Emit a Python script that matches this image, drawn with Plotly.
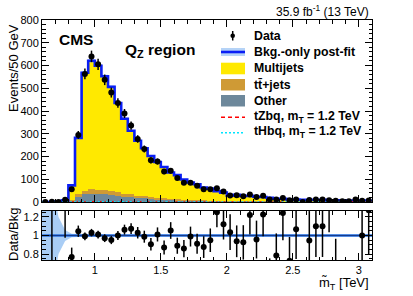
import numpy as np
import plotly.graph_objects as go

# ---------------- data ----------------
bin_low, bin_width, n_bins = 0.6, 0.05, 50
x_ticks = [1, 1.5, 2, 2.5, 3]
x_ticklabels = ["1", "1.5", "2", "2.5", "3"]

data = [0, 1, 0, 10, 56, 295, 563, 640, 605, 537, 481, 435, 389, 336, 277, 233, 183, 178,
        134, 137, 105, 85, 85, 71, 56, 56, 60, 46, 29, 30, 25, 33, 22, 27, 11, 11, 18, 8,
        11, 0, 9, 11, 11, 8, 5, 3, 3, 11, 6, 7]

multijets = [0.1, 0.3, 1.5, 6.0, 66, 248, 518, 566, 545, 502, 459, 393, 329, 280, 241, 211, 180,
             157, 137.5, 116, 105.5, 88, 76.5, 70, 57, 52.8, 42.5, 36.2, 24, 28.1, 23.8, 23.9,
             20.5, 19.5, 16.6, 12, 12.5, 9.3, 8.6, 8.4, 8.1, 8.7, 8.7, 3.9, 6.5, 6, 5.6, 5.2, 5.2, 4.7]
ttbar = [0, 0, 0, 0.5, 3, 12, 17, 19, 19, 18, 17, 15, 13, 12, 10, 9, 8, 7, 6, 5, 4.5, 4, 3.5, 3,
         2.5, 2.2, 2, 1.8, 1.5, 1.4, 1.2, 1.1, 1, 1, 0.9, 0.8, 0.8, 0.7, 0.7, 0.6, 0.6, 0.5, 0.5,
         0.5, 0.4, 0.4, 0.4, 0.3, 0.3, 0.3]
other = [0, 0, 0, 0.5, 4, 22, 33, 36, 35, 33, 30, 27, 24, 21, 18, 16, 14, 12, 10.5, 9, 8, 7, 6, 5,
         4.5, 4, 3.5, 3, 2.5, 2.5, 2, 2, 1.5, 1.5, 1.5, 1.2, 1.2, 1, 1, 1, 0.8, 0.8, 0.8, 0.6, 0.6,
         0.6, 0.5, 0.5, 0.5, 0.5]
tzbq = [0, 0, 0, 0, 0.1, 0.3, 0.5, 0.8, 1.0, 1.2, 1.4, 1.5, 1.3, 1.0, 0.7, 0.5, 0.3, 0.2, 0.1,
        0.1, 0, 0, 0, 0, 0, 0, 0, 0, 0, 0, 0, 0, 0, 0, 0, 0, 0, 0, 0, 0, 0, 0, 0, 0, 0, 0, 0, 0, 0, 0]
thbq = [0, 0, 0, 0, 0.1, 0.2, 0.4, 0.6, 0.8, 1.0, 1.1, 1.2, 1.0, 0.8, 0.6, 0.4, 0.2, 0.1, 0.1,
        0, 0, 0, 0, 0, 0, 0, 0, 0, 0, 0, 0, 0, 0, 0, 0, 0, 0, 0, 0, 0, 0, 0, 0, 0, 0, 0, 0, 0, 0, 0]
# relative post-fit background uncertainty per bin
bkg_unc = [1.0, 0.6, 0.2, 0.06, 0.02, 0.015, 0.012, 0.012, 0.012, 0.012, 0.012, 0.012, 0.012,
           0.012, 0.012, 0.012, 0.012, 0.012, 0.012, 0.012, 0.012, 0.012, 0.012, 0.012, 0.012,
           0.012, 0.012, 0.012, 0.012, 0.012, 0.012, 0.012, 0.012, 0.012, 0.012, 0.012, 0.012,
           0.012, 0.012, 0.012, 0.012, 0.012, 0.012, 0.012, 0.012, 0.012, 0.012, 0.012, 0.012, 0.012]

# ---------------- derived ----------------
edges = bin_low + bin_width * np.arange(n_bins + 1)
centers = edges[:-1] + bin_width / 2
data_a = np.array(data, float)
total = np.array(multijets) + np.array(ttbar) + np.array(other)
data_err = np.sqrt(data_a)
ratio = np.where(total > 0, data_a / total, np.nan)
ratio_err = np.where(total > 0, data_err / total, np.nan)
unc = np.array(bkg_unc)

def step(v):
    v = np.asarray(v, float)
    return np.append(v, v[-1])

FONT = "Liberation Sans, Arial, Helvetica, sans-serif"
C_MJ, C_TT, C_OT = "#ffe900", "#cf9a35", "#6d889b"
C_BLUE = "#0a1ef5"
C_BAND = "#a9cdf5"

fig = go.Figure()

# stacked backgrounds
for name, vals, col in [("Other", other, C_OT), ("tt+jets", ttbar, C_TT), ("Multijets", multijets, C_MJ)]:
    fig.add_trace(go.Bar(x=centers, y=vals, width=bin_width, marker=dict(color=col, line=dict(width=0)),
                         xaxis="x", yaxis="y", showlegend=False, hoverinfo="skip"))

# bkg uncertainty band (main)
fig.add_trace(go.Scatter(x=edges, y=step(total * (1 + unc)), mode="lines", line=dict(width=0, shape="hv"),
                         xaxis="x", yaxis="y", showlegend=False, hoverinfo="skip"))
fig.add_trace(go.Scatter(x=edges, y=step(total * (1 - unc)), mode="lines", line=dict(width=0, shape="hv"),
                         fill="tonexty", fillcolor="rgba(120,175,240,0.55)",
                         xaxis="x", yaxis="y", showlegend=False, hoverinfo="skip"))
# total bkg line
fig.add_trace(go.Scatter(x=edges, y=step(total), mode="lines", line=dict(color=C_BLUE, width=2.6, shape="hv"),
                         xaxis="x", yaxis="y", showlegend=False, hoverinfo="skip"))
# signals
fig.add_trace(go.Scatter(x=edges, y=step(tzbq), mode="lines", line=dict(color="#ff0000", width=1.5, dash="4px,3px", shape="hv"),
                         xaxis="x", yaxis="y", showlegend=False, hoverinfo="skip"))
fig.add_trace(go.Scatter(x=edges, y=step(thbq), mode="lines", line=dict(color="#00e5ff", width=1.5, dash="2px,2px", shape="hv"),
                         xaxis="x", yaxis="y", showlegend=False, hoverinfo="skip"))
# data
fig.add_trace(go.Scatter(x=centers, y=data_a, mode="markers", marker=dict(color="black", size=6),
                         error_y=dict(type="data", array=data_err, visible=True, color="black", thickness=1.5, width=0),
                         xaxis="x", yaxis="y", showlegend=False, hoverinfo="skip"))

# ratio band
fig.add_trace(go.Scatter(x=np.concatenate([[edges[0]], centers, [edges[-1]]]),
                         y=np.concatenate([[1 + unc[0]], 1 + unc, [1 + unc[-1]]]),
                         mode="lines", line=dict(width=0), xaxis="x2", yaxis="y2", showlegend=False, hoverinfo="skip"))
fig.add_trace(go.Scatter(x=np.concatenate([[edges[0]], centers, [edges[-1]]]),
                         y=np.concatenate([[1 - unc[0]], 1 - unc, [1 - unc[-1]]]),
                         mode="lines", line=dict(width=0), fill="tonexty", fillcolor=C_BAND,
                         xaxis="x2", yaxis="y2", showlegend=False, hoverinfo="skip"))
fig.add_trace(go.Scatter(x=[edges[0], edges[-1]], y=[1, 1], mode="lines", line=dict(color="#2a6fdc", width=2.5),
                         xaxis="x2", yaxis="y2", showlegend=False, hoverinfo="skip"))
fig.add_trace(go.Scatter(x=[edges[0], edges[-1]], y=[1, 1], mode="lines", line=dict(color="#10307a", width=0.8),
                         xaxis="x2", yaxis="y2", showlegend=False, hoverinfo="skip"))
fig.add_trace(go.Scatter(x=centers, y=ratio, mode="markers", marker=dict(color="black", size=6),
                         error_y=dict(type="data", array=ratio_err, visible=True, color="black", thickness=1.5, width=0),
                         xaxis="x2", yaxis="y2", showlegend=False, hoverinfo="skip"))

W, H = 413, 296
L, R, T, B = 42, 372, 20, 260

def px(xp):
    return (xp - L) / (R - L)

def py(yp):
    return (B - yp) / (B - T)

axis_common = dict(showline=True, linecolor="black", linewidth=1, mirror="allticks", ticks="inside",
                   tickcolor="black", showgrid=False, zeroline=False,
                   tickfont=dict(family=FONT, size=11, color="black"))

fig.update_layout(
    width=W, height=H, margin=dict(l=L, r=W - R, t=T, b=H - B),
    paper_bgcolor="white", plot_bgcolor="white", barmode="stack", bargap=0,
    showlegend=False,
    xaxis=dict(domain=[0, 1], anchor="y", range=[0.6, 3.1], tickvals=x_ticks, showticklabels=False,
               ticklen=7, minor=dict(dtick=0.1, tick0=0, ticklen=3.5, ticks="inside", tickcolor="black"),
               **axis_common),
    yaxis=dict(domain=[py(202), 1], anchor="x", range=[0, 800], dtick=100, ticklen=7,
               minor=dict(dtick=20, ticklen=3.5, ticks="inside", tickcolor="black"), **axis_common),
    xaxis2=dict(domain=[0, 1], anchor="y2", range=[0.6, 3.1], tickvals=x_ticks, ticktext=x_ticklabels,
                ticklen=7, minor=dict(dtick=0.1, tick0=0, ticklen=3.5, ticks="inside", tickcolor="black"),
                **axis_common),
    yaxis2=dict(domain=[0, py(211)], anchor="x2", range=[0.736, 1.264], tickvals=[0.8, 1, 1.2],
                ticktext=["0.8", "1", "1.2"], ticklen=7,
                minor=dict(dtick=0.05, ticklen=3.5, ticks="inside", tickcolor="black"), **axis_common),
)

ann = []
def text(x, y, s, size, bold=False, xanchor="left", yanchor="middle", angle=0):
    ann.append(dict(x=px(x), y=py(y), xref="paper", yref="paper", text=f"<b>{s}</b>" if bold else s,
                    showarrow=False, xanchor=xanchor, yanchor=yanchor, textangle=angle,
                    font=dict(family=FONT, size=size, color="black")))

text(371, 11, "35.9 fb<sup>-1</sup> (13 TeV)", 12, xanchor="right")
text(57, 39, "CMS", 15.5, bold=True)
text(123, 50, "Q<sub>Z</sub> region", 15.5, bold=True)
text(13, 22, "Events/50 GeV", 13, xanchor="center", yanchor="top", angle=-90)
text(13, 235, "Data/Bkg", 13, xanchor="center", angle=-90)
text(371, 283, "m\u0303<sub>T</sub> [TeV]", 13, xanchor="right")

leg_x = 252
leg = [(35.7, "Data"), (52, "Bkg.-only post-fit"), (68.5, "Multijets"), (84.5, "tt\u0304+jets"),
       (100.5, "Other"), (116.5, "tZbq, m<sub>T</sub> = 1.2 TeV"), (132, "tHbq, m<sub>T</sub> = 1.2 TeV")]
for yy, s in leg:
    text(leg_x, yy, s, 12.3, bold=True)

shapes = []
def rect(x0, y0, x1, y1, col):
    shapes.append(dict(type="rect", xref="paper", yref="paper", x0=px(x0), x1=px(x1), y0=py(y1), y1=py(y0),
                       fillcolor=col, line=dict(width=0)))
def line(x0, y0, x1, y1, col, w, dash="solid"):
    shapes.append(dict(type="line", xref="paper", yref="paper", x0=px(x0), x1=px(x1), y0=py(y0), y1=py(y1),
                       line=dict(color=col, width=w, dash=dash)))

# legend symbols
line(232.7, 31, 232.7, 40.5, "black", 1.5)
shapes.append(dict(type="circle", xref="paper", yref="paper", x0=px(230.4), x1=px(235), y0=py(38), y1=py(33.4),
                   fillcolor="black", line=dict(width=0)))
rect(221, 48, 245, 56, "rgba(120,175,240,0.55)")
line(221, 52, 245, 52, C_BLUE, 2.6)
rect(221, 62.7, 245, 74.3, C_MJ)
rect(221, 79, 245, 90.5, C_TT)
rect(221, 95, 245, 106.5, C_OT)
line(221, 117.3, 245, 117.3, "#ff0000", 1.5, "4px,3px")
line(221, 132.7, 245, 132.7, "#00e5ff", 1.5, "2px,2px")

fig.update_layout(annotations=ann, shapes=shapes)
fig.write_html("out.html", config={"displayModeBar": False},
               post_script="document.body.style.margin='0';document.body.style.padding='0';")
